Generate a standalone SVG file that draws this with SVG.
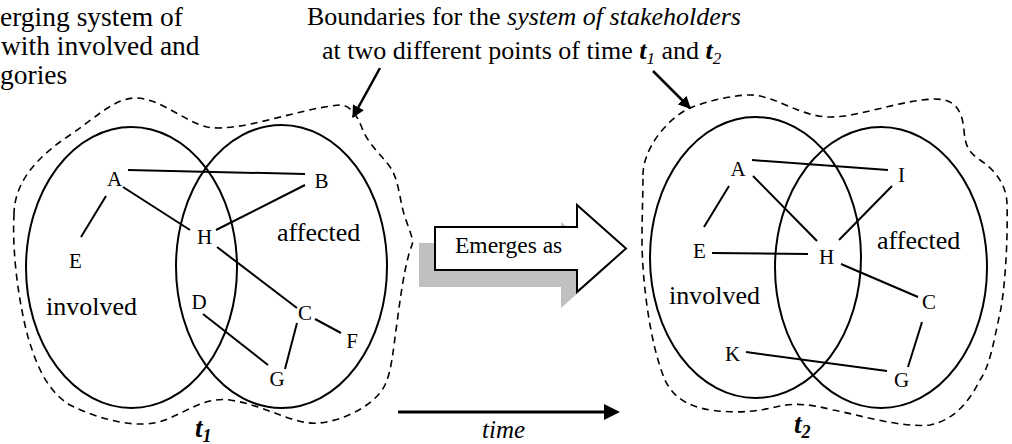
<svg xmlns="http://www.w3.org/2000/svg" width="1012" height="444" viewBox="0 0 1012 444" font-family="'Liberation Serif', 'Times New Roman', Tinos, 'Nimbus Roman', 'DejaVu Serif', serif">
<defs>
<style>
.node{font-size:21px;text-anchor:middle}
.cat{font-size:26px}
.hdr{font-size:26px}
.ell{fill:none;stroke:#000;stroke-width:2}
.bnd{fill:none;stroke:#000;stroke-width:1.6;stroke-dasharray:7 5}
.edge{stroke:#000;stroke-width:2;fill:none}
.ptr{stroke:#000;stroke-width:2.5;fill:none}
.tl{font-size:27px;font-style:italic;font-weight:bold}
</style>
<marker id="ah" viewBox="0 0 10 10" refX="9" refY="5" markerWidth="5" markerHeight="5" orient="auto" markerUnits="strokeWidth">
<path d="M0,0 L10,5 L0,10 Z" fill="#000"/>
</marker>
</defs>
<rect width="1012" height="444" fill="#fff"/>

<g id="caption-left" font-size="27.5">
<text x="0" y="26">erging system of</text>
<text x="1" y="55">with involved and</text>
<text x="0" y="84">gories</text>
</g>
<g id="caption-right">
<text class="hdr" x="307" y="25">Boundaries for the <tspan font-style="italic">system of stakeholders</tspan></text>
<text class="hdr" x="322" y="59">at two different points of time <tspan font-style="italic" font-weight="bold">t</tspan><tspan font-style="italic" font-size="17" dy="5">1</tspan><tspan dy="-5"> and </tspan><tspan font-style="italic" font-weight="bold">t</tspan><tspan font-style="italic" font-size="17" dy="5">2</tspan></text>
</g>

<g id="boundary-t1">
<path class="bnd" d="M14,215 C14,180 40,155 70,135 C95,118 115,98 135,98 C160,98 185,122 207,127 C240,133 300,108 340,105 C350,105 357,115 362,128 C368,145 385,158 392,170 C400,185 400,205 406,220 C410,232 414,240 412,245 C405,262 400,300 397,323 C393,350 392,370 385,385 C375,405 345,420 320,423 C295,426 265,405 230,400 C205,397 190,410 165,420 C140,430 100,420 70,405 C45,390 35,360 28,337 C18,300 12,250 14,215 Z"/>
<ellipse class="ell" cx="131.5" cy="267.5" rx="105.5" ry="140.5"/>
<ellipse class="ell" cx="281.5" cy="266.5" rx="105.5" ry="141.5"/>
<text class="cat" x="46" y="315">involved</text>
<text class="cat" x="277" y="241">affected</text>
<text class="tl" x="195" y="437">t<tspan font-size="18" dy="5">1</tspan></text>
</g>

<g id="boundary-t2">
<path class="bnd" d="M643,175 C643,150 665,120 690,108 C710,100 735,95 750,95 C775,95 800,117 830,117 C860,117 900,100 935,99 C955,99 962,110 964,130 C965,145 968,152 980,160 C995,170 1007,185 1007,205 C1008,240 1005,290 1000,313 C993,345 990,365 980,380 C970,400 955,420 930,425 C900,428 860,415 833,410 C810,404 795,403 780,406 C760,411 740,414 710,410 C685,406 672,395 665,380 C650,345 642,280 642,240 C642,215 643,195 643,175 Z"/>
<ellipse class="ell" cx="755.5" cy="257.5" rx="105.5" ry="140.5"/>
<ellipse class="ell" cx="881" cy="267.5" rx="106" ry="140.5"/>
<text class="cat" x="669" y="304">involved</text>
<text class="cat" x="877" y="249">affected</text>
<text class="tl" x="794" y="433">t<tspan font-size="18" dy="5">2</tspan></text>
</g>

<g id="t1-A"><text class="node" x="114.5" y="186">A</text></g>
<g id="t1-B"><text class="node" x="321.5" y="188">B</text></g>
<g id="t1-H"><text class="node" x="204.5" y="244">H</text></g>
<g id="t1-E"><text class="node" x="75.5" y="268">E</text></g>
<g id="t1-D"><text class="node" x="199" y="309">D</text></g>
<g id="t1-C"><text class="node" x="305" y="320">C</text></g>
<g id="t1-F"><text class="node" x="352" y="348">F</text></g>
<g id="t1-G"><text class="node" x="277" y="386">G</text></g>

<g id="t2-A"><text class="node" x="738" y="176">A</text></g>
<g id="t2-I"><text class="node" x="901.5" y="182">I</text></g>
<g id="t2-E"><text class="node" x="699.5" y="258">E</text></g>
<g id="t2-H"><text class="node" x="826.5" y="264">H</text></g>
<g id="t2-C"><text class="node" x="929" y="309">C</text></g>
<g id="t2-K"><text class="node" x="732.5" y="361">K</text></g>
<g id="t2-G"><text class="node" x="901.5" y="387">G</text></g>

<g id="emerges">
<path d="M419,243 H561 V222 L610,264.5 L561,308 V287 H419 Z" fill="#c0c0c0"/>
<path d="M435,227 H577 V205 L626,248.5 L577,292 V270 H435 Z" fill="#fff" stroke="#000" stroke-width="2"/>
<text x="455" y="253" font-size="23.5">Emerges as</text>
</g>

<g id="time-axis">
<line x1="398" y1="412" x2="606" y2="412" stroke="#000" stroke-width="3"/>
<path d="M620,412 L604,404 L604,420 Z" fill="#000"/>
<text x="482" y="438" font-size="25" font-style="italic">time</text>
</g>

<g id="connectors">
<line class="edge" x1="128" y1="170" x2="305" y2="174"/>
<line class="edge" x1="106" y1="196" x2="81" y2="237"/>
<line class="edge" x1="123" y1="187" x2="190" y2="230"/>
<line class="edge" x1="305" y1="185" x2="216" y2="230"/>
<line class="edge" x1="217" y1="247" x2="297" y2="308"/>
<line class="edge" x1="315" y1="319" x2="341" y2="333"/>
<line class="edge" x1="297" y1="323" x2="285" y2="369"/>
<line class="edge" x1="203" y1="314" x2="268" y2="365"/>

<line class="edge" x1="752" y1="160" x2="888" y2="170"/>
<line class="edge" x1="729" y1="186" x2="704" y2="227"/>
<line class="edge" x1="753" y1="176" x2="817" y2="241"/>
<line class="edge" x1="892" y1="186" x2="839" y2="240"/>
<line class="edge" x1="712" y1="253" x2="808" y2="254"/>
<line class="edge" x1="841" y1="264" x2="918" y2="297"/>
<line class="edge" x1="922" y1="322" x2="908" y2="367"/>
<line class="edge" x1="746" y1="352" x2="887" y2="371"/>

<line class="ptr" x1="380" y1="68" x2="353" y2="117" marker-end="url(#ah)"/>
<line class="ptr" x1="653" y1="71" x2="690" y2="108" marker-end="url(#ah)"/>
</g>
</svg>
